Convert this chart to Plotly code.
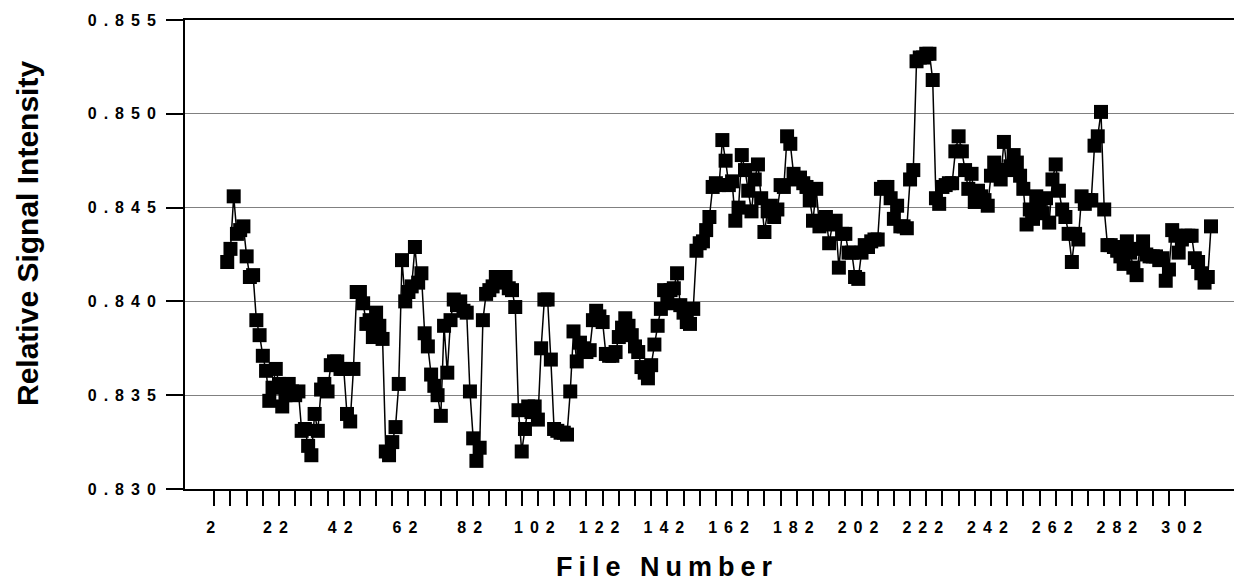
import plotly.graph_objects as go

# ---- data ----
first_file = 6
signal_006_045 = [0.8421, 0.8428, 0.8456, 0.8436, 0.8438, 0.8440, 0.8424, 0.8413, 0.8414, 0.8390,
                  0.8382, 0.8371, 0.8363, 0.8347, 0.8354, 0.8364, 0.8356, 0.8344, 0.8350, 0.8356,
                  0.8352, 0.8350, 0.8352, 0.8331, 0.8332, 0.8323, 0.8318, 0.8340, 0.8331, 0.8353,
                  0.8356, 0.8352, 0.8366, 0.8368, 0.8368, 0.8364, 0.8364, 0.8340, 0.8336, 0.8364]
signal_046_099 = [0.8405, 0.8405, 0.8399, 0.8388, 0.8390, 0.8381, 0.8394, 0.8387, 0.8380, 0.8320,
                  0.8318, 0.8325, 0.8333, 0.8356, 0.8422, 0.8400, 0.8405, 0.8408, 0.8429, 0.8410,
                  0.8415, 0.8383, 0.8376, 0.8361, 0.8355, 0.8350, 0.8339, 0.8387, 0.8362, 0.8390,
                  0.8401, 0.8398, 0.8400, 0.8395, 0.8394, 0.8352, 0.8327, 0.8315, 0.8322, 0.8390,
                  0.8404, 0.8406, 0.8408, 0.8413, 0.8410, 0.8413, 0.8413, 0.8407, 0.8406, 0.8397,
                  0.8342, 0.8320, 0.8332, 0.8344]
signal_100_151 = [0.8341, 0.8344, 0.8337, 0.8375, 0.8401, 0.8401, 0.8369, 0.8332, 0.8331, 0.8330,
                  0.8330, 0.8329, 0.8352, 0.8384, 0.8368, 0.8378, 0.8375, 0.8373, 0.8374, 0.8390,
                  0.8395, 0.8392, 0.8389, 0.8372, 0.8371, 0.8371, 0.8373, 0.8381, 0.8386, 0.8391,
                  0.8387, 0.8382, 0.8376, 0.8373, 0.8365, 0.8362, 0.8359, 0.8366, 0.8377, 0.8387,
                  0.8396, 0.8406, 0.8399, 0.8406, 0.8407, 0.8415, 0.8398, 0.8394, 0.8389, 0.8388,
                  0.8396, 0.8427]
signal_152_203 = [0.8431, 0.8432, 0.8438, 0.8445, 0.8461, 0.8463, 0.8462, 0.8486, 0.8475, 0.8462,
                  0.8464, 0.8443, 0.8450, 0.8478, 0.8470, 0.8459, 0.8448, 0.8465, 0.8473, 0.8455,
                  0.8437, 0.8448, 0.8451, 0.8445, 0.8449, 0.8462, 0.8461, 0.8488, 0.8484, 0.8468,
                  0.8465, 0.8466, 0.8463, 0.8461, 0.8454, 0.8443, 0.8460, 0.8440, 0.8442, 0.8445,
                  0.8431, 0.8441, 0.8443, 0.8418, 0.8436, 0.8436, 0.8426, 0.8426, 0.8413, 0.8412,
                  0.8426, 0.8430]
signal_204_255 = [0.8429, 0.8432, 0.8433, 0.8433, 0.8460, 0.8461, 0.8461, 0.8455, 0.8444, 0.8451,
                  0.8440, 0.8440, 0.8439, 0.8465, 0.8470, 0.8528, 0.8530, 0.8530, 0.8532, 0.8532,
                  0.8518, 0.8455, 0.8452, 0.8461, 0.8462, 0.8463, 0.8463, 0.8480, 0.8488, 0.8480,
                  0.8470, 0.8460, 0.8468, 0.8453, 0.8459, 0.8456, 0.8454, 0.8451, 0.8467, 0.8474,
                  0.8470, 0.8465, 0.8485, 0.8470, 0.8472, 0.8478, 0.8474, 0.8467, 0.8460, 0.8441,
                  0.8449, 0.8444]
signal_256_310 = [0.8456, 0.8452, 0.8447, 0.8455, 0.8442, 0.8465, 0.8473, 0.8459, 0.8449, 0.8445,
                  0.8436, 0.8421, 0.8436, 0.8433, 0.8456, 0.8452, 0.8454, 0.8454, 0.8483, 0.8488,
                  0.8501, 0.8449, 0.8430, 0.8430, 0.8429, 0.8427, 0.8424, 0.8420, 0.8432, 0.8426,
                  0.8418, 0.8414, 0.8428, 0.8432, 0.8425, 0.8424, 0.8424, 0.8424, 0.8422, 0.8423,
                  0.8411, 0.8417, 0.8438, 0.8435, 0.8426, 0.8433, 0.8435, 0.8435, 0.8435, 0.8423,
                  0.8421, 0.8415, 0.8410, 0.8413, 0.8440]

x_tick_labels = ["2", "22", "42", "62", "82", "102", "122", "142", "162",
                 "182", "202", "222", "242", "262", "282", "302"]
x_minor_tick_step = 5
y_ticks = [0.830, 0.835, 0.840, 0.845, 0.850, 0.855]
y_tick_labels = ["0.830", "0.835", "0.840", "0.845", "0.850", "0.855"]

x_title = "File Number"
y_title = "Relative Signal Intensity"

# ---- build ----
signal = (signal_006_045 + signal_046_099 + signal_100_151 +
          signal_152_203 + signal_204_255 + signal_256_310)
files = list(range(first_file, first_file + len(signal)))

first_lab = int(x_tick_labels[0])
last_lab = int(x_tick_labels[-1])
x_tickvals = list(range(first_lab, last_lab + 1, x_minor_tick_step))
x_ticktext = [str(v) if str(v) in x_tick_labels else "" for v in x_tickvals]

FONT = "Arial, 'Liberation Sans', Helvetica, sans-serif"

fig = go.Figure()
fig.add_trace(go.Scatter(
    x=files, y=signal, mode="lines+markers",
    line=dict(color="black", width=1.5),
    marker=dict(symbol="square", size=14, color="black", line=dict(width=0)),
    showlegend=False, hoverinfo="x+y",
))

fig.update_layout(
    width=1244, height=588,
    margin=dict(l=185, r=10, t=20, b=99),
    paper_bgcolor="white", plot_bgcolor="white",
    font=dict(family=FONT, color="black"),
    xaxis=dict(
        range=[-7.05, 317.1],
        tickmode="array", tickvals=x_tickvals, ticktext=x_ticktext,
        ticks="outside", ticklen=15, tickwidth=1.5, tickcolor="black",
        showline=True, linecolor="black", linewidth=2, mirror=True,
        showgrid=False, zeroline=False,
        tickfont=dict(family=FONT, size=16, color="black", weight=700),
        ticklabelstandoff=8,
    ),
    yaxis=dict(
        range=[0.830, 0.855],
        tickmode="array", tickvals=y_ticks, ticktext=y_tick_labels,
        ticks="outside", ticklen=17, tickwidth=1.5, tickcolor="black",
        showline=True, linecolor="black", linewidth=2, mirror=False,
        showgrid=True, gridcolor="#808080", gridwidth=1, zeroline=False,
        tickfont=dict(family=FONT, size=16, color="black", weight=700),
        ticklabelstandoff=0,
    ),
    annotations=[
        dict(text=y_title, xref="paper", yref="paper",
             x=(28 - 185) / 1049, y=1 - (234 - 20) / 469,
             xanchor="center", yanchor="middle", textangle=-90, showarrow=False,
             font=dict(family=FONT, size=30, color="black", weight=700)),
        dict(text=x_title, xref="paper", yref="paper",
             x=(667 - 185) / 1049, y=-(567 - 489) / 469,
             xanchor="center", yanchor="middle", showarrow=False,
             font=dict(family=FONT, size=27, color="black", weight=700)),
    ],
)

css = ("html, body { margin: 0; padding: 0; overflow: hidden; } "
       ".xtick text, .ytick text { letter-spacing: 7px; } "
       "g.annotation[data-index='1'] text { letter-spacing: 6px; }")
post = ("var s=document.createElement('style');s.textContent=" + repr(css) +
        ";document.head.appendChild(s);")

fig.write_html("out.html", post_script=post, config={"displayModeBar": False})
